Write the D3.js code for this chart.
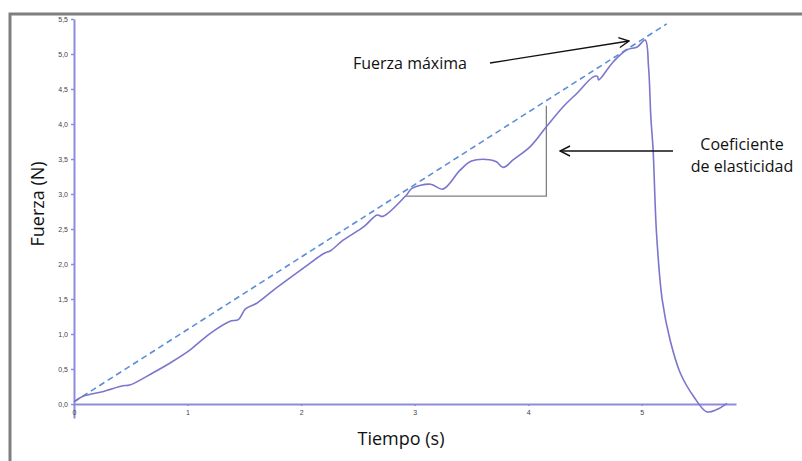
<!DOCTYPE html>
<html>
<head>
<meta charset="utf-8">
<script src="https://cdn.jsdelivr.net/npm/d3@7"></script>
<style>
  body { margin: 0; background: #fff; }
</style>
</head>
<body>
<div id="chart"></div>
<script>
// Données
const time = [0, 0.08, 0.26, 0.43, 0.49, 0.70, 0.85, 1.02, 1.20, 1.37, 1.45, 1.51, 1.61, 1.76, 2.02, 2.20, 2.26, 2.37, 2.55, 2.67, 2.72, 2.93, 2.975, 3.14, 3.25, 3.40, 3.50, 3.66, 3.72, 3.78, 3.87, 4.02, 4.16, 4.31, 4.43, 4.57, 4.61, 4.62, 4.75, 4.87, 4.96, 5.03, 5.06, 5.08, 5.10, 5.13, 5.18, 5.25, 5.34, 5.46, 5.57, 5.66, 5.75];
const force = [0.03, 0.11, 0.18, 0.26, 0.27, 0.45, 0.59, 0.77, 1.01, 1.18, 1.21, 1.36, 1.44, 1.63, 1.94, 2.15, 2.19, 2.34, 2.53, 2.70, 2.68, 2.99, 3.08, 3.14, 3.07, 3.34, 3.47, 3.49, 3.46, 3.38, 3.49, 3.68, 3.96, 4.25, 4.44, 4.67, 4.68, 4.63, 4.89, 5.06, 5.10, 5.20, 4.81, 4.10, 3.63, 2.44, 1.49, 0.91, 0.44, 0.10, -0.11, -0.08, 0.01];

// Droite pointillée (pente)
const slopeTime = [0, 5.22];
const slopeForce = [0.03, 5.43];

// Triangle du coefficient
const triTime = [2.925, 4.16, 4.16];
const triForce = [2.97, 2.97, 4.26];

const xTicks = [0, 1, 2, 3, 4, 5];
const yTicks = [0, 0.5, 1, 1.5, 2, 2.5, 3, 3.5, 4, 4.5, 5, 5.5];

const width = 802;
const height = 461;

const svg = d3.select("#chart").append("svg")
  .attr("width", width)
  .attr("height", height);

// Cadre gris
svg.append("path")
  .attr("d", `M10,${height} L10,14 L${width},14`)
  .attr("fill", "none")
  .attr("stroke", "#7f7f7f")
  .attr("stroke-width", 3);

const x = d3.scaleLinear().domain([0, 5.83]).range([74, 736]);
const y = d3.scaleLinear().domain([-0.2, 5.5]).range([418, 19]);

const axisColor = "#8c8cdc";
const fmt = d3.formatLocale({ decimal: ",", thousands: ".", grouping: [3], currency: ["", ""] }).format(".1f");

// Axe Y
const gy = svg.append("g")
  .attr("transform", `translate(${x(0)},0)`)
  .call(d3.axisLeft(y).tickValues(yTicks).tickFormat(fmt).tickSize(3).tickSizeOuter(0));
// Axe X
const gx = svg.append("g")
  .attr("transform", `translate(0,${y(0)})`)
  .call(d3.axisBottom(x).tickValues(xTicks).tickFormat(d3.format("d")).tickSize(2).tickSizeOuter(0));

[gx, gy].forEach(g => {
  g.select(".domain").attr("stroke", axisColor).attr("stroke-width", 2);
  g.selectAll(".tick line").attr("stroke", axisColor).attr("stroke-width", 1.5);
  g.selectAll(".tick text")
    .attr("fill", "#444")
    .style("font-family", "Liberation Sans")
    .style("font-size", "7px");
});
gx.selectAll(".tick text").attr("dy", "0.9em");

// Droite pointillée
svg.append("path")
  .datum(d3.zip(slopeTime, slopeForce))
  .attr("d", d3.line().x(d => x(d[0])).y(d => y(d[1])))
  .attr("fill", "none")
  .attr("stroke", "#5b8ed6")
  .attr("stroke-width", 1.6)
  .attr("stroke-dasharray", "6,4");

// Triangle
svg.append("path")
  .datum(d3.zip(triTime, triForce))
  .attr("d", d3.line().x(d => x(d[0])).y(d => y(d[1])))
  .attr("fill", "none")
  .attr("stroke", "#808080")
  .attr("stroke-width", 1.3);

// Courbe fuerza
svg.append("path")
  .datum(d3.zip(time, force))
  .attr("d", d3.line().x(d => x(d[0])).y(d => y(d[1])).curve(d3.curveCatmullRom))
  .attr("fill", "none")
  .attr("stroke", "#7b76cc")
  .attr("stroke-width", 1.6);

// Flèches
svg.append("defs").append("marker")
  .attr("id", "arrow")
  .attr("viewBox", "0 0 12 12")
  .attr("refX", 11).attr("refY", 6)
  .attr("markerWidth", 12).attr("markerHeight", 12)
  .attr("markerUnits", "userSpaceOnUse")
  .attr("orient", "auto")
  .append("path")
  .attr("d", "M1,1 L11,6 L1,11")
  .attr("fill", "none")
  .attr("stroke", "#111")
  .attr("stroke-width", 1.4);

svg.append("line")
  .attr("x1", 490).attr("y1", 63).attr("x2", 629).attr("y2", 41)
  .attr("stroke", "#111").attr("stroke-width", 1.4)
  .attr("marker-end", "url(#arrow)");

svg.append("line")
  .attr("x1", 673).attr("y1", 151).attr("x2", 560).attr("y2", 151)
  .attr("stroke", "#111").attr("stroke-width", 1.4)
  .attr("marker-end", "url(#arrow)");

// Textes
const font = "Open Sans";
svg.append("text")
  .attr("x", 353).attr("y", 69)
  .style("font-family", font).style("font-size", "16px").attr("fill", "#111")
  .text("Fuerza máxima");

svg.append("text")
  .attr("x", 742).attr("y", 150)
  .attr("text-anchor", "middle")
  .style("font-family", font).style("font-size", "16px").attr("fill", "#111")
  .text("Coeficiente");
svg.append("text")
  .attr("x", 742).attr("y", 172)
  .attr("text-anchor", "middle")
  .style("font-family", font).style("font-size", "16px").attr("fill", "#111")
  .text("de elasticidad");

svg.append("text")
  .attr("x", 401).attr("y", 445)
  .attr("text-anchor", "middle")
  .style("font-family", font).style("font-size", "18px").attr("fill", "#111")
  .text("Tiempo (s)");

svg.append("text")
  .attr("transform", "translate(44,204) rotate(-90)")
  .attr("text-anchor", "middle")
  .style("font-family", font).style("font-size", "18px").attr("fill", "#111")
  .text("Fuerza (N)");
</script>
</body>
</html>
